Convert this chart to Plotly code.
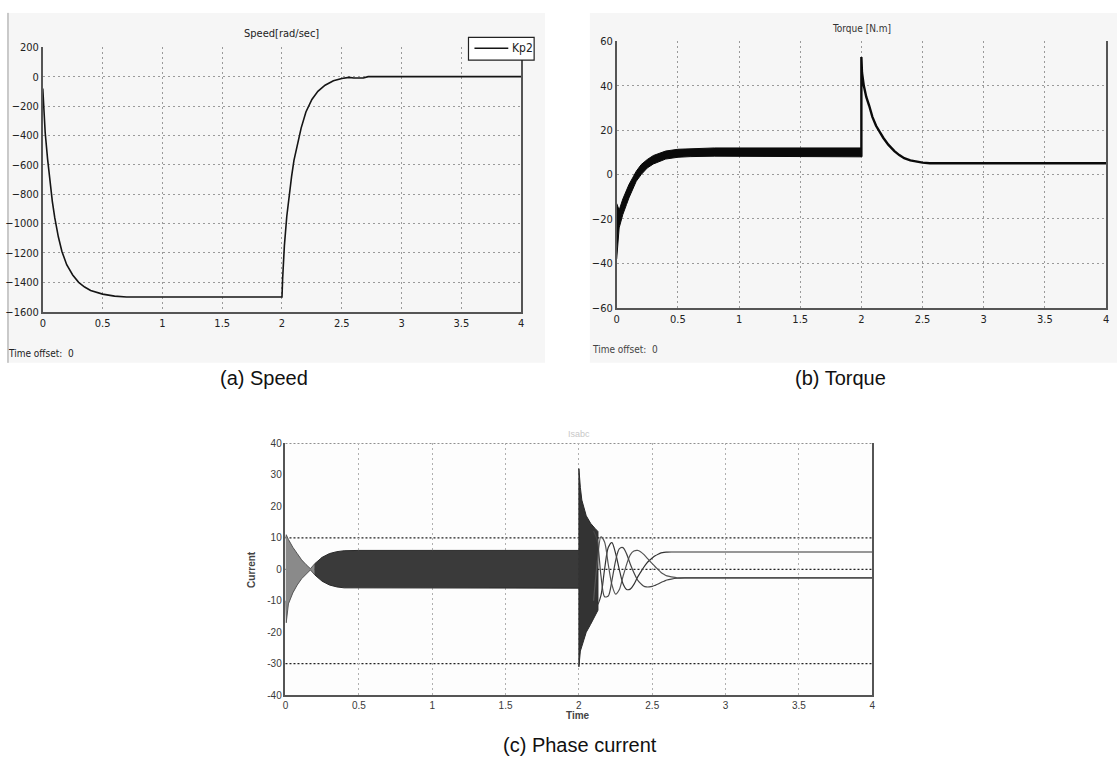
import plotly.graph_objects as go

W, H = 1120, 767

# ---------------- data ----------------
x_ticks = [0, 0.5, 1, 1.5, 2, 2.5, 3, 3.5, 4]
x_ticklabels = ["0", "0.5", "1", "1.5", "2", "2.5", "3", "3.5", "4"]

speed_ticks = [200, 0, -200, -400, -600, -800, -1000, -1200, -1400, -1600]
torque_ticks = [60, 40, 20, 0, -20, -40, -60]
current_ticks = [40, 30, 20, 10, 0, -10, -20, -30, -40]
current_grid = [40, 10, 0, -30]
legend_name = "Kp2"

# (a) speed [rad/sec]
speed_t = [0, 0.005, 0.02, 0.04, 0.06, 0.08, 0.1, 0.13, 0.16, 0.2, 0.25, 0.3,
           0.35, 0.4, 0.5, 0.6, 0.7, 2.0, 2.005, 2.02, 2.04, 2.06, 2.08, 2.1,
           2.13, 2.16, 2.2, 2.25, 2.3, 2.36, 2.43, 2.5, 2.56, 2.6, 2.68, 2.72, 4.0]
speed_v = [-80, -150, -380, -560, -720, -850, -960, -1090, -1190, -1280, -1350, -1400,
           -1432, -1455, -1480, -1494, -1500, -1500, -1380, -1150, -950, -800, -680, -570,
           -450, -350, -240, -155, -100, -58, -28, -12, -5, -9, -9, 0, 0]

# (b) torque [N.m] : ripple band (upper / lower envelope) then smooth tail
torque_band_t = [0.0, 0.02, 0.05, 0.08, 0.1, 0.13, 0.16, 0.2, 0.25, 0.3, 0.35, 0.4,
                 0.5, 0.6, 0.8, 1.0, 1.2, 1.5, 1.8, 2.0]
torque_band_hi = [-13, -16, -11, -7, -4.5, -1.5, 1.5, 4.5, 6.8, 8.6, 9.6, 10.6,
                  11.4, 11.7, 12, 12, 12, 12, 12, 12]
torque_band_lo = [-38, -24, -18, -13.5, -10.5, -6.5, -3, 0.0, 3.0, 4.8, 6.0, 7.0,
                  7.8, 8.1, 8.3, 8.3, 8.3, 8.2, 8.1, 8]
torque_tail_t = [2.0, 2.0, 2.005, 2.02, 2.04, 2.064, 2.09, 2.12, 2.15, 2.18, 2.22,
                 2.27, 2.31, 2.35, 2.4, 2.44, 2.5, 2.56, 4.0]
torque_tail_v = [8, 53, 46, 40, 35, 31, 26, 22, 19, 16.5, 13.5,
                 10.6, 8.8, 7.4, 6.4, 5.9, 5.4, 5.1, 5.1]

# (c) phase current : dense band envelopes, then the three phases
cur_band_t = [0.0, 0.005, 0.02, 0.05, 0.08, 0.11, 0.14, 0.17, 0.2, 0.25, 0.3, 0.35,
              0.4, 0.5, 1.0, 1.5, 2.0]
cur_band_hi = [10, 11, 9.5, 7, 5, 3, 1.5, 0.2, 1.8, 3.8, 5, 5.6, 5.9, 6, 6, 6, 6]
cur_band_lo = [-10, -17, -11, -7.5, -5, -3, -1.5, -0.2, -1.8, -3.8, -5, -5.6, -5.9,
               -6, -6, -6, -6]
cur_burst_t = [2.0, 2.0, 2.01, 2.02, 2.05, 2.08, 2.11, 2.13]
cur_burst_hi = [6, 32, 26, 22, 17, 14.6, 13, 12]
cur_burst_lo = [-6, -31, -26, -24, -20, -17.5, -15, -13]

phase_t = [2.1, 2.125, 2.15, 2.175, 2.2, 2.225, 2.25, 2.275, 2.3, 2.325, 2.35, 2.375,
           2.4, 2.42, 2.44, 2.46, 2.48, 2.5, 2.52, 2.54, 2.56, 2.58, 2.6, 2.63, 2.67,
           2.72, 4.0]
phase_a = [-2.3, -11.3, -8.4, 0.0, 6.9, 8.5, 5.1, 0.0, -4.5, -6.4, -6.3, -4.8,
           -2.5, -1.0, 0.5, 1.8, 2.8, 3.6, 4.3, 4.8, 5.2, 5.4, 5.45, 5.5, 5.5, 5.5, 5.5]
phase_b = [-10.0, 2.1, 10.3, 8.7, 1.6, -4.9, -7.9, -6.5, -2.4, 1.5, 4.6, 5.8,
           6.0, 5.6, 4.8, 3.8, 2.8, 1.8, 0.8, -0.1, -1.0, -1.6, -2.1, -2.4, -2.7,
           -2.75, -2.75]
phase_c = [12.2, 9.2, -1.9, -8.7, -8.5, -3.6, 2.7, 6.5, 6.9, 4.9, 1.7, -1.1,
           -3.4, -4.5, -5.3, -5.6, -5.6, -5.45, -5.1, -4.7, -4.2, -3.8, -3.4, -3.1,
           -2.85, -2.75, -2.75]

# ---------------- layout helpers ----------------
def dx(a, b):
    return [a / W, b / W]


def dy(top, bottom):
    return [1 - bottom / H, 1 - top / H]


def px(x):
    return x / W


def py(y):
    return 1 - y / H


NARROW = "Liberation Sans Narrow, Arial Narrow, DejaVu Sans Condensed, Liberation Sans, sans-serif"
ARIAL = "Liberation Sans, Arial, sans-serif"

fig = go.Figure()

# speed
fig.add_trace(go.Scatter(x=speed_t, y=speed_v, mode="lines", name=legend_name,
                         line=dict(color="#151515", width=1.6),
                         xaxis="x", yaxis="y", showlegend=False))

# torque band + tail
fig.add_trace(go.Scatter(x=torque_band_t + torque_band_t[::-1],
                         y=torque_band_hi + torque_band_lo[::-1],
                         mode="lines", fill="toself", fillcolor="#0a0a0a",
                         line=dict(color="#0a0a0a", width=1),
                         xaxis="x2", yaxis="y2", showlegend=False))
fig.add_trace(go.Scatter(x=torque_tail_t, y=torque_tail_v, mode="lines",
                         line=dict(color="#0a0a0a", width=2.4),
                         xaxis="x2", yaxis="y2", showlegend=False))

# current band
fig.add_trace(go.Scatter(x=cur_band_t[:9] + cur_band_t[:9][::-1],
                         y=cur_band_hi[:9] + cur_band_lo[:9][::-1],
                         mode="lines", fill="toself", fillcolor="#8a8a8a",
                         line=dict(color="#555555", width=1),
                         xaxis="x3", yaxis="y3", showlegend=False))
fig.add_trace(go.Scatter(x=cur_band_t[8:] + cur_band_t[8:][::-1],
                         y=cur_band_hi[8:] + cur_band_lo[8:][::-1],
                         mode="lines", fill="toself", fillcolor="#3a3a3a",
                         line=dict(color="#2a2a2a", width=1),
                         xaxis="x3", yaxis="y3", showlegend=False))
fig.add_trace(go.Scatter(x=cur_burst_t + cur_burst_t[::-1],
                         y=cur_burst_hi + cur_burst_lo[::-1],
                         mode="lines", fill="toself", fillcolor="#333333",
                         line=dict(color="#2a2a2a", width=1),
                         xaxis="x3", yaxis="y3", showlegend=False))
for ph, col in ((phase_a, "#333333"), (phase_b, "#555555"), (phase_c, "#444444")):
    fig.add_trace(go.Scatter(x=phase_t, y=ph, mode="lines",
                             line=dict(color=col, width=1.2, shape="spline", smoothing=0.8),
                             xaxis="x3", yaxis="y3", showlegend=False))

grid = dict(showgrid=True, gridcolor="#9a9a9a", griddash="2px,3px", gridwidth=1,
            zeroline=False, showline=True, linecolor="#555555", linewidth=1.5,
            ticks="", fixedrange=True)

tick_small = dict(family=NARROW, size=11, color="#222222")
tick_bold = dict(family=ARIAL, size=10, color="#3a3a3a")

fig.update_layout(
    width=W, height=H,
    margin=dict(l=0, r=0, t=0, b=0),
    paper_bgcolor="white",
    plot_bgcolor="#fdfdfd",
    showlegend=False,
    xaxis=dict(domain=dx(40, 521), range=[0, 4], tickvals=x_ticks, ticktext=x_ticklabels,
               tickfont=tick_small, anchor="y", **grid),
    yaxis=dict(domain=dy(42, 311), range=[-1600, 200], tickvals=speed_ticks,
               tickfont=tick_small, anchor="x", mirror=True, **grid),
    xaxis2=dict(domain=dx(617, 1109), range=[0, 4], tickvals=x_ticks, ticktext=x_ticklabels,
                tickfont=tick_small, anchor="y2", **grid),
    yaxis2=dict(domain=dy(36, 307), range=[-60, 60], tickvals=torque_ticks,
                tickfont=tick_small, anchor="x2", mirror=True, **grid),
    xaxis3=dict(domain=dx(284, 874), range=[0, 4], tickvals=x_ticks, ticktext=x_ticklabels,
                tickfont=tick_bold, anchor="y3", **{**grid, "gridcolor": "#b0b0b0"}),
    yaxis3=dict(domain=dy(445, 701), range=[-40, 40], tickvals=current_ticks,
                ticktext=[str(v) for v in current_ticks],
                tickfont=tick_bold, anchor="x3", mirror=True,
                **{**grid, "showgrid": False}),
)

shapes = [
    # panel backgrounds of the two scope windows
    dict(type="rect", xref="paper", yref="paper", x0=px(5), x1=px(545), y0=py(363), y1=py(7),
         fillcolor="#f6f6f6", line=dict(width=0), layer="below"),
    dict(type="line", xref="paper", yref="paper", x0=px(5), x1=px(5), y0=py(363), y1=py(7),
         line=dict(color="#9a9a9a", width=1), layer="below"),
    dict(type="rect", xref="paper", yref="paper", x0=px(590), x1=px(1120), y0=py(363), y1=py(7),
         fillcolor="#f6f6f6", line=dict(width=0), layer="below"),
    # legend box of the speed scope
    dict(type="rect", xref="paper", yref="paper", x0=px(468), x1=px(534), y0=py(55), y1=py(32),
         fillcolor="white", line=dict(color="#222222", width=1.2), layer="above"),
    dict(type="line", xref="paper", yref="paper", x0=px(474), x1=px(508), y0=py(43), y1=py(43),
         line=dict(color="#151515", width=1.6), layer="above"),
]
for g in current_grid:
    shapes.append(dict(type="line", xref="x3 domain", yref="y3", x0=0, x1=1, y0=g, y1=g,
                       line=dict(color="#222222", width=1.2, dash="2px,2px"), layer="below"))
fig.update_layout(shapes=shapes)

annotations = [
    dict(text=legend_name, x=px(510), y=py(43), xanchor="left",
         font=dict(family=NARROW, size=12, color="#222")),
    dict(text="Speed[rad/sec]", x=px(280), y=py(28), font=dict(family=NARROW, size=11, color="#222")),
    dict(text="Torque [N.m]", x=px(863), y=py(23), font=dict(family=NARROW, size=10, color="#333")),
    dict(text="Time offset:  0", x=px(3), y=py(353), xanchor="left",
         font=dict(family=NARROW, size=10, color="#222")),
    dict(text="Time offset:  0", x=px(590), y=py(349), xanchor="left",
         font=dict(family=NARROW, size=10, color="#444")),
    dict(text="(a) Speed", x=px(262), y=py(378), font=dict(family=ARIAL, size=20, color="#111")),
    dict(text="(b) Torque", x=px(842), y=py(378), font=dict(family=ARIAL, size=20, color="#111")),
    dict(text="(c) Phase current", x=px(580), y=py(752), font=dict(family=ARIAL, size=20, color="#111")),
    dict(text="Isabc", x=px(579), y=py(435), font=dict(family=ARIAL, size=9, color="#c8c8c8")),
    dict(text="<b>Current</b>", x=px(250), y=py(573), textangle=-90,
         font=dict(family=ARIAL, size=10, color="#444")),
    dict(text="<b>Time</b>", x=px(578), y=py(722), font=dict(family=ARIAL, size=10, color="#444")),
]
for a in annotations:
    a.update(xref="paper", yref="paper", showarrow=False)
    a.setdefault("xanchor", "center")
    a.setdefault("yanchor", "middle")
fig.update_layout(annotations=annotations)

fig.write_html("out.html")
